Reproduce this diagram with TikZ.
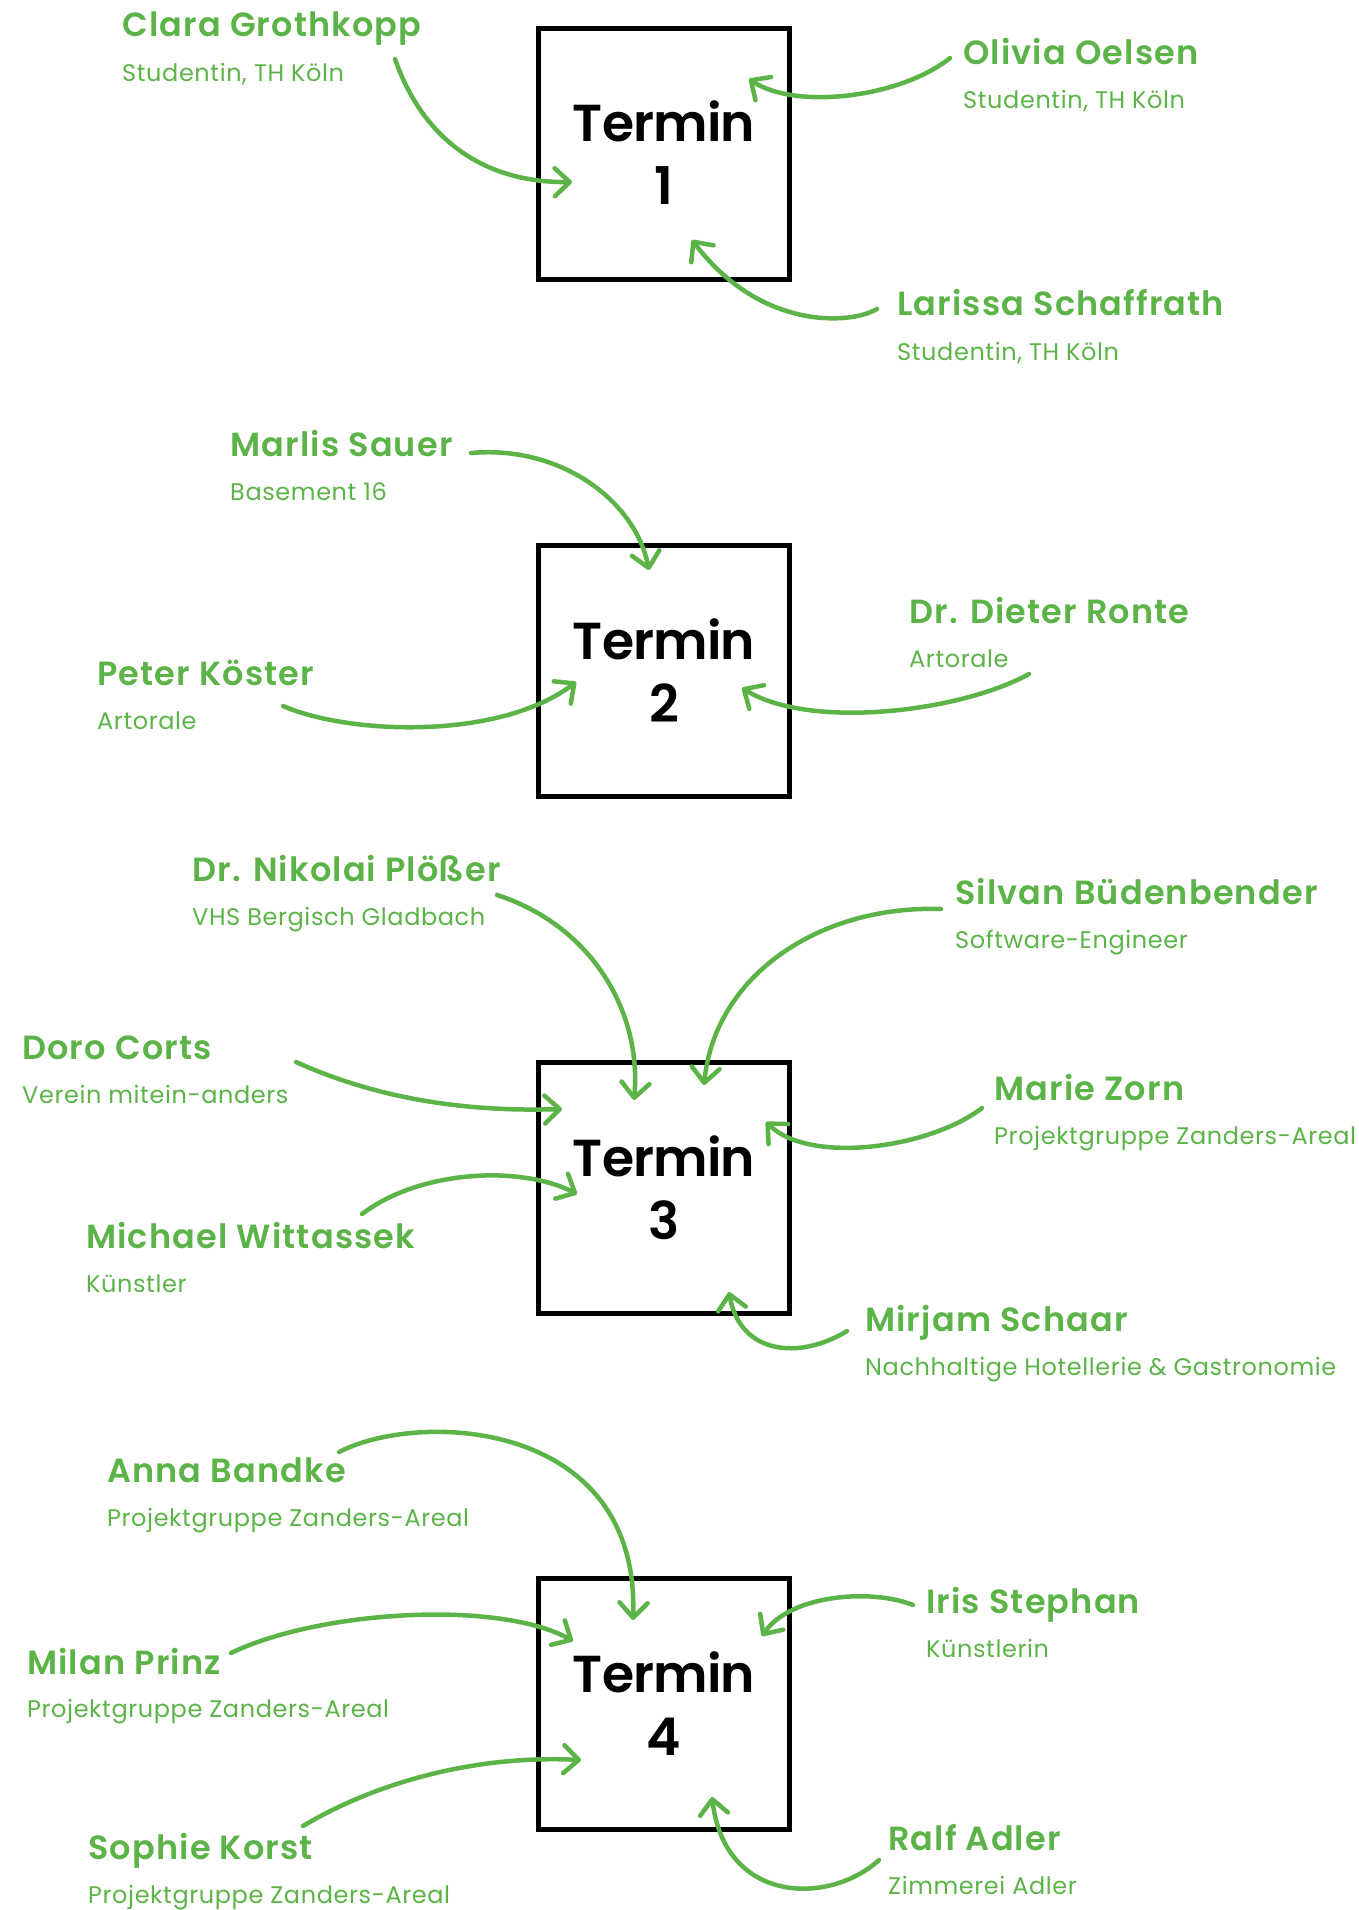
\documentclass[tikz,border=0pt]{standalone}
\usepackage{fontspec}
\setmainfont{Poppins}
\IfFontExistsTF{Poppins SemiBold}
  {\newfontfamily\namefont{Poppins SemiBold}[LetterSpace=3.5]
   \newfontfamily\boxfont{Poppins SemiBold}[LetterSpace=-1.5]}
  {\newfontfamily\namefontbase{Poppins}[LetterSpace=3.0]
   \newfontfamily\boxfontbase{Poppins}[LetterSpace=-3]
   \newcommand\namefont{\namefontbase\bfseries}
   \newcommand\boxfont{\boxfontbase\bfseries}}
\newfontfamily\rolefont{Poppins}[LetterSpace=2.5]
\usetikzlibrary{arrows.meta}
\definecolor{leaf}{RGB}{92,180,72}
\tikzset{
  termbox/.style={draw=black, line width=5pt, minimum width=251pt, minimum height=251pt, inner sep=0pt},
  termtext/.style={anchor=base, inner sep=0pt, text=black, font=\boxfont\fontsize{52}{60}\selectfont},
  person/.style={anchor=base west, inner sep=0pt, text=leaf, font=\namefont\fontsize{33.5}{38}\selectfont},
  role/.style={anchor=base west, inner sep=0pt, text=leaf, font=\rolefont\fontsize{24}{28}\selectfont},
  link/.style={draw=leaf, line width=4.5pt, line cap=round,
    -{Straight Barb[length=15pt,width=28pt,line cap=round,line join=round]}},
}
\begin{document}
\begin{tikzpicture}[x=1pt,y=-1pt]
\useasboundingbox[fill=white] (0,0) rectangle (1358,1910);

% ---------- appointment boxes ----------
\foreach \n/\cy in {1/154, 2/671, 3/1188, 4/1704}{
  \node[termbox] (box\n) at (664,\cy) {};
  \node[termtext] (box\n-a) at (664,\cy-12) {Termin};
  \node[termtext] (box\n-b) at (664,\cy+51) {\n};
}

% ---------- Termin 1 ----------
\node[person] (clara) at (122,37) {Clara Grothkopp};
\node[role] (clara-r) at (122,82) {Studentin, TH Köln};
\node[person] (olivia) at (963,65) {Olivia Oelsen};
\node[role] (olivia-r) at (963,109) {Studentin, TH Köln};
\node[person] (larissa) at (897,315) {Larissa Schaffrath};
\node[role] (larissa-r) at (897,360) {Studentin, TH Köln};

\coordinate (clara-s) at (395,59);   \coordinate (clara-t) at (572,182);
\coordinate (olivia-s) at (950,58);  \coordinate (olivia-t) at (749,79);
\coordinate (larissa-s) at (877,309);\coordinate (larissa-t) at (692,240);
\draw[link] (clara-s) .. controls (425,145) and (490,183) .. (clara-t);
\draw[link] (olivia-s) .. controls (900,98) and (795,110) .. (olivia-t);
\draw[link] (larissa-s) .. controls (850,325) and (760,330) .. (larissa-t);

% ---------- Termin 2 ----------
\node[person] (marlis) at (230,456) {Marlis Sauer};
\node[role] (marlis-r) at (230,500) {Basement 16};
\node[person] (dieter) at (909,623) {Dr. Dieter Ronte};
\node[role] (dieter-r) at (909,667) {Artorale};
\node[person] (peter) at (97,685) {Peter Köster};
\node[role] (peter-r) at (97,729) {Artorale};

\coordinate (marlis-s) at (471,453);  \coordinate (marlis-t) at (649,570);
\coordinate (dieter-s) at (1029,674); \coordinate (dieter-t) at (742,688);
\coordinate (peter-s) at (283,706);   \coordinate (peter-t) at (576,682);
\draw[link] (marlis-s) .. controls (560,445) and (635,500) .. (marlis-t);
\draw[link] (dieter-s) .. controls (960,712) and (810,730) .. (dieter-t);
\draw[link] (peter-s) .. controls (350,735) and (500,740) .. (peter-t);

% ---------- Termin 3 ----------
\node[person] (nikolai) at (192,881) {Dr. Nikolai Plößer};
\node[role] (nikolai-r) at (192,925) {VHS Bergisch Gladbach};
\node[person] (silvan) at (955,904) {Silvan Büdenbender};
\node[role] (silvan-r) at (955,948) {Software-Engineer};
\node[person] (doro) at (22,1059) {Doro Corts};
\node[role] (doro-r) at (22,1103) {Verein mitein-anders};
\node[person] (marie) at (994,1100) {Marie Zorn};
\node[role] (marie-r) at (994,1144) {Projektgruppe Zanders-Areal};
\node[person] (michael) at (86,1248) {Michael Wittassek};
\node[role] (michael-r) at (86,1292) {Künstler};
\node[person] (mirjam) at (865,1331) {Mirjam Schaar};
\node[role] (mirjam-r) at (865,1375) {Nachhaltige Hotellerie \& Gastronomie};

\coordinate (nikolai-s) at (497,895);  \coordinate (nikolai-t) at (634,1100);
\coordinate (silvan-s) at (941,909);   \coordinate (silvan-t) at (704,1085);
\coordinate (doro-s) at (296,1062);    \coordinate (doro-t) at (562,1109);
\coordinate (marie-s) at (982,1108);   \coordinate (marie-t) at (766,1122);
\coordinate (michael-s) at (362,1214); \coordinate (michael-t) at (577,1194);
\coordinate (mirjam-s) at (847,1331);  \coordinate (mirjam-t) at (729,1292);
\draw[link] (nikolai-s) .. controls (590,925) and (642,1010) .. (nikolai-t);
\draw[link] (silvan-s) .. controls (820,905) and (715,975) .. (silvan-t);
\draw[link] (doro-s) .. controls (380,1100) and (470,1112) .. (doro-t);
\draw[link] (marie-s) .. controls (930,1148) and (810,1165) .. (marie-t);
\draw[link] (michael-s) .. controls (420,1170) and (520,1165) .. (michael-t);
\draw[link] (mirjam-s) .. controls (800,1360) and (740,1355) .. (mirjam-t);

% ---------- Termin 4 ----------
\node[person] (anna) at (107,1482) {Anna Bandke};
\node[role] (anna-r) at (107,1526) {Projektgruppe Zanders-Areal};
\node[person] (iris) at (926,1613) {Iris Stephan};
\node[role] (iris-r) at (926,1657) {Künstlerin};
\node[person] (milan) at (27,1674) {Milan Prinz};
\node[role] (milan-r) at (27,1717) {Projektgruppe Zanders-Areal};
\node[person] (sophie) at (88,1859) {Sophie Korst};
\node[role] (sophie-r) at (88,1903) {Projektgruppe Zanders-Areal};
\node[person] (ralf) at (888,1850) {Ralf Adler};
\node[role] (ralf-r) at (888,1894) {Zimmerei Adler};

\coordinate (anna-s) at (339,1452);   \coordinate (anna-t) at (633,1620);
\coordinate (iris-s) at (913,1605);   \coordinate (iris-t) at (762,1636);
\coordinate (milan-s) at (231,1653);  \coordinate (milan-t) at (573,1641);
\coordinate (sophie-s) at (303,1826); \coordinate (sophie-t) at (581,1760);
\coordinate (ralf-s) at (879,1860);   \coordinate (ralf-t) at (712,1797);
\draw[link] (anna-s) .. controls (420,1410) and (640,1420) .. (anna-t);
\draw[link] (iris-s) .. controls (870,1588) and (790,1595) .. (iris-t);
\draw[link] (milan-s) .. controls (320,1610) and (500,1600) .. (milan-t);
\draw[link] (sophie-s) .. controls (380,1780) and (480,1755) .. (sophie-t);
\draw[link] (ralf-s) .. controls (830,1905) and (725,1905) .. (ralf-t);
\end{tikzpicture}
\end{document}
